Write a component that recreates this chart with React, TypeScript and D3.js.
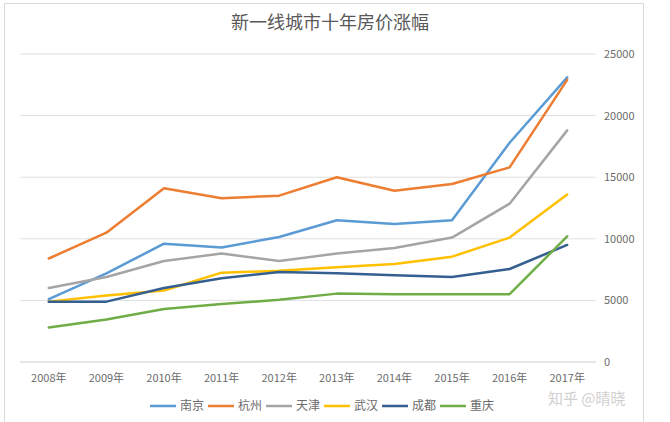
import React from "react";
import * as d3 from "d3";

const years = ["2008年", "2009年", "2010年", "2011年", "2012年", "2013年", "2014年", "2015年", "2016年", "2017年"];
const nanjing = [5100, 7200, 9600, 9300, 10150, 11500, 11200, 11500, 17800, 23100];
const hangzhou = [8400, 10500, 14100, 13300, 13500, 15000, 13900, 14450, 15800, 22900];
const tianjin = [6000, 6900, 8200, 8800, 8200, 8800, 9250, 10100, 12850, 18800];
const wuhan = [4900, 5400, 5800, 7250, 7400, 7700, 7950, 8550, 10100, 13600];
const chengdu = [4900, 4900, 6000, 6800, 7300, 7200, 7050, 6900, 7550, 9500];
const chongqing = [2800, 3450, 4300, 4700, 5050, 5550, 5500, 5500, 5500, 10200];
const seriesNames = ["南京", "杭州", "天津", "武汉", "成都", "重庆"];
const seriesValues = [nanjing, hangzhou, tianjin, wuhan, chengdu, chongqing];
const colors = ["#5B9BD5", "#ED7D31", "#A5A5A5", "#FFC000", "#355F91", "#70AD47"];
const yTicks = [0, 5000, 10000, 15000, 20000, 25000];

const W = 670, H = 422;
const FONT = "'Noto Sans CJK SC', 'Noto Sans', sans-serif";

export default function App() {
  const x = d3.scaleBand().domain(years).range([20, 596]);
  const y = d3.scaleLinear().domain([0, 25000]).range([362, 54]);
  const line = d3.line<number>()
    .x((_, i) => (x(years[i]) as number) + x.bandwidth() / 2)
    .y((d) => y(d));
  const legendX = d3.scalePoint().domain(seriesNames).range([150, 440]);

  return (
    <svg width={W} height={H} style={{ position: "absolute", left: 0, top: 0, background: "#fff" }} fontFamily={FONT}>
      <rect x={4.5} y={3.5} width={639} height={430} fill="#fff" stroke="#d9d9d9" />
      <text x={330} y={29} textAnchor="middle" fontSize={18} fill="#595959">新一线城市十年房价涨幅</text>
      {yTicks.map((t) => (
        <g key={t}>
          <line x1={20} x2={596} y1={y(t)} y2={y(t)} stroke={t === 0 ? "#d0d0d0" : "#e0e0e0"} strokeWidth={1} />
          <text x={604} y={y(t) + 4} fontSize={11} fill="#6b6b6b">{t}</text>
        </g>
      ))}
      {years.map((yr) => (
        <text key={yr} x={(x(yr) as number) + x.bandwidth() / 2} y={382} textAnchor="middle" fontSize={11} fill="#6b6b6b">{yr}</text>
      ))}
      {seriesValues.map((vals, i) => (
        <path key={seriesNames[i]} d={line(vals) as string} fill="none" stroke={colors[i]} strokeWidth={2.5} strokeLinejoin="round" strokeLinecap="round" />
      ))}
      {seriesNames.map((name, i) => {
        const lx = legendX(name) as number;
        return (
          <g key={name}>
            <line x1={lx} x2={lx + 26} y1={406} y2={406} stroke={colors[i]} strokeWidth={2.5} />
            <text x={lx + 30} y={410} fontSize={12} fill="#6b6b6b">{name}</text>
          </g>
        );
      })}
      <text x={548} y={404} fontSize={15} fill="#cfcfcf">知乎 @晴晓</text>
    </svg>
  );
}
